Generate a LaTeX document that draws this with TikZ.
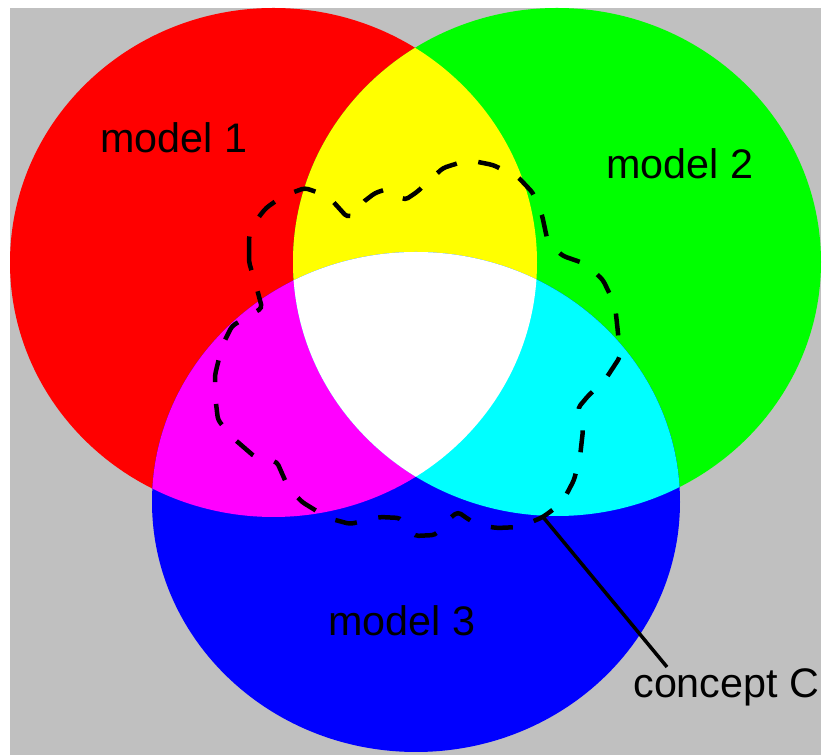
\documentclass[tikz,border=0pt]{standalone}
\usepackage{fontspec}
\setmainfont{Liberation Sans}
\definecolor{bgray}{HTML}{C0C0C0}
\definecolor{mred}{HTML}{FF0000}
\definecolor{mgreen}{HTML}{00FF00}
\definecolor{mblue}{HTML}{0000FF}
\definecolor{myellow}{HTML}{FFFF00}
\definecolor{mmagenta}{HTML}{FF00FF}
\definecolor{mcyan}{HTML}{00FFFF}
\tikzset{
  modellabel/.style={font=\fontsize{23.5}{28}\selectfont, text=black, inner sep=0pt, anchor=base west},
  conceptline/.style={draw=black, line width=0.9mm, dash pattern=on 4.4mm off 4.4mm, rounded corners=2},
  leader/.style={draw=black, line width=0.7mm},
}
\begin{document}
\begin{tikzpicture}[x=0.2mm, y=-0.2mm]
    \useasboundingbox (0,0) rectangle (823,755);
    \fill[bgray] (10,8) rectangle (821,755);
    % the three models
    \fill[mred] (273.5,262.5) ellipse [x radius=263.5, y radius=254.5];
    \fill[mgreen] (557,262) ellipse [x radius=264, y radius=254];
    \fill[mblue] (416,502) ellipse [x radius=264, y radius=250];
    % overlaps
    \begin{scope}
      \clip (273.5,262.5) ellipse [x radius=263.5, y radius=254.5];
      \fill[myellow] (557,262) ellipse [x radius=264, y radius=254];
      \fill[mmagenta] (416,502) ellipse [x radius=264, y radius=250];
    \end{scope}
    \begin{scope}
      \clip (557,262) ellipse [x radius=264, y radius=254];
      \fill[mcyan] (416,502) ellipse [x radius=264, y radius=250];
    \end{scope}
    \begin{scope}
      \clip (273.5,262.5) ellipse [x radius=263.5, y radius=254.5];
      \clip (557,262) ellipse [x radius=264, y radius=254];
      \fill[white] (416,502) ellipse [x radius=264, y radius=250];
    \end{scope}
    \node[modellabel] (m1) at (100,153) {model 1};
    \node[modellabel] (m2) at (606,179) {model 2};
    \node[modellabel] (m3) at (328,636) {model 3};
    % concept C
    \draw[conceptline] (249,262) -- (249,236) -- (258,218) -- (266,208) -- (283,196)
      -- (305,188) -- (328,196) -- (347,217) -- (360,213) -- (362,203) -- (375,193)
      -- (387,189) -- (405,200) -- (417,192) -- (443,168) -- (468,160) -- (493,165)
      -- (518,177) -- (533,193) -- (542,215) -- (548,243) -- (563,256) -- (586,264)
      -- (603,280) -- (615,305) -- (618,333) -- (620,357) -- (605,380) -- (588,396)
      -- (578,408) -- (583,430) -- (580,457) -- (574,480) -- (562,503) -- (543,517)
      -- (520,527) -- (497,528) -- (478,525) -- (468,519) -- (458,512) -- (450,518)
      -- (435,535) -- (415,536) -- (400,518) -- (380,517) -- (350,524) -- (328,518)
      -- (302,502) -- (288,487) -- (277,462) -- (255,457) -- (233,438) -- (218,420)
      -- (215,395) -- (215,375) -- (222,346) -- (232,326) -- (262,308) -- (257,289)
      -- cycle;
    \node[modellabel] (cc) at (633,698) {concept C};
    \coordinate (ctip) at (543,517);
    \coordinate (cend) at (667,667);
    \draw[leader] (ctip) -- (cend);
\end{tikzpicture}
\end{document}
